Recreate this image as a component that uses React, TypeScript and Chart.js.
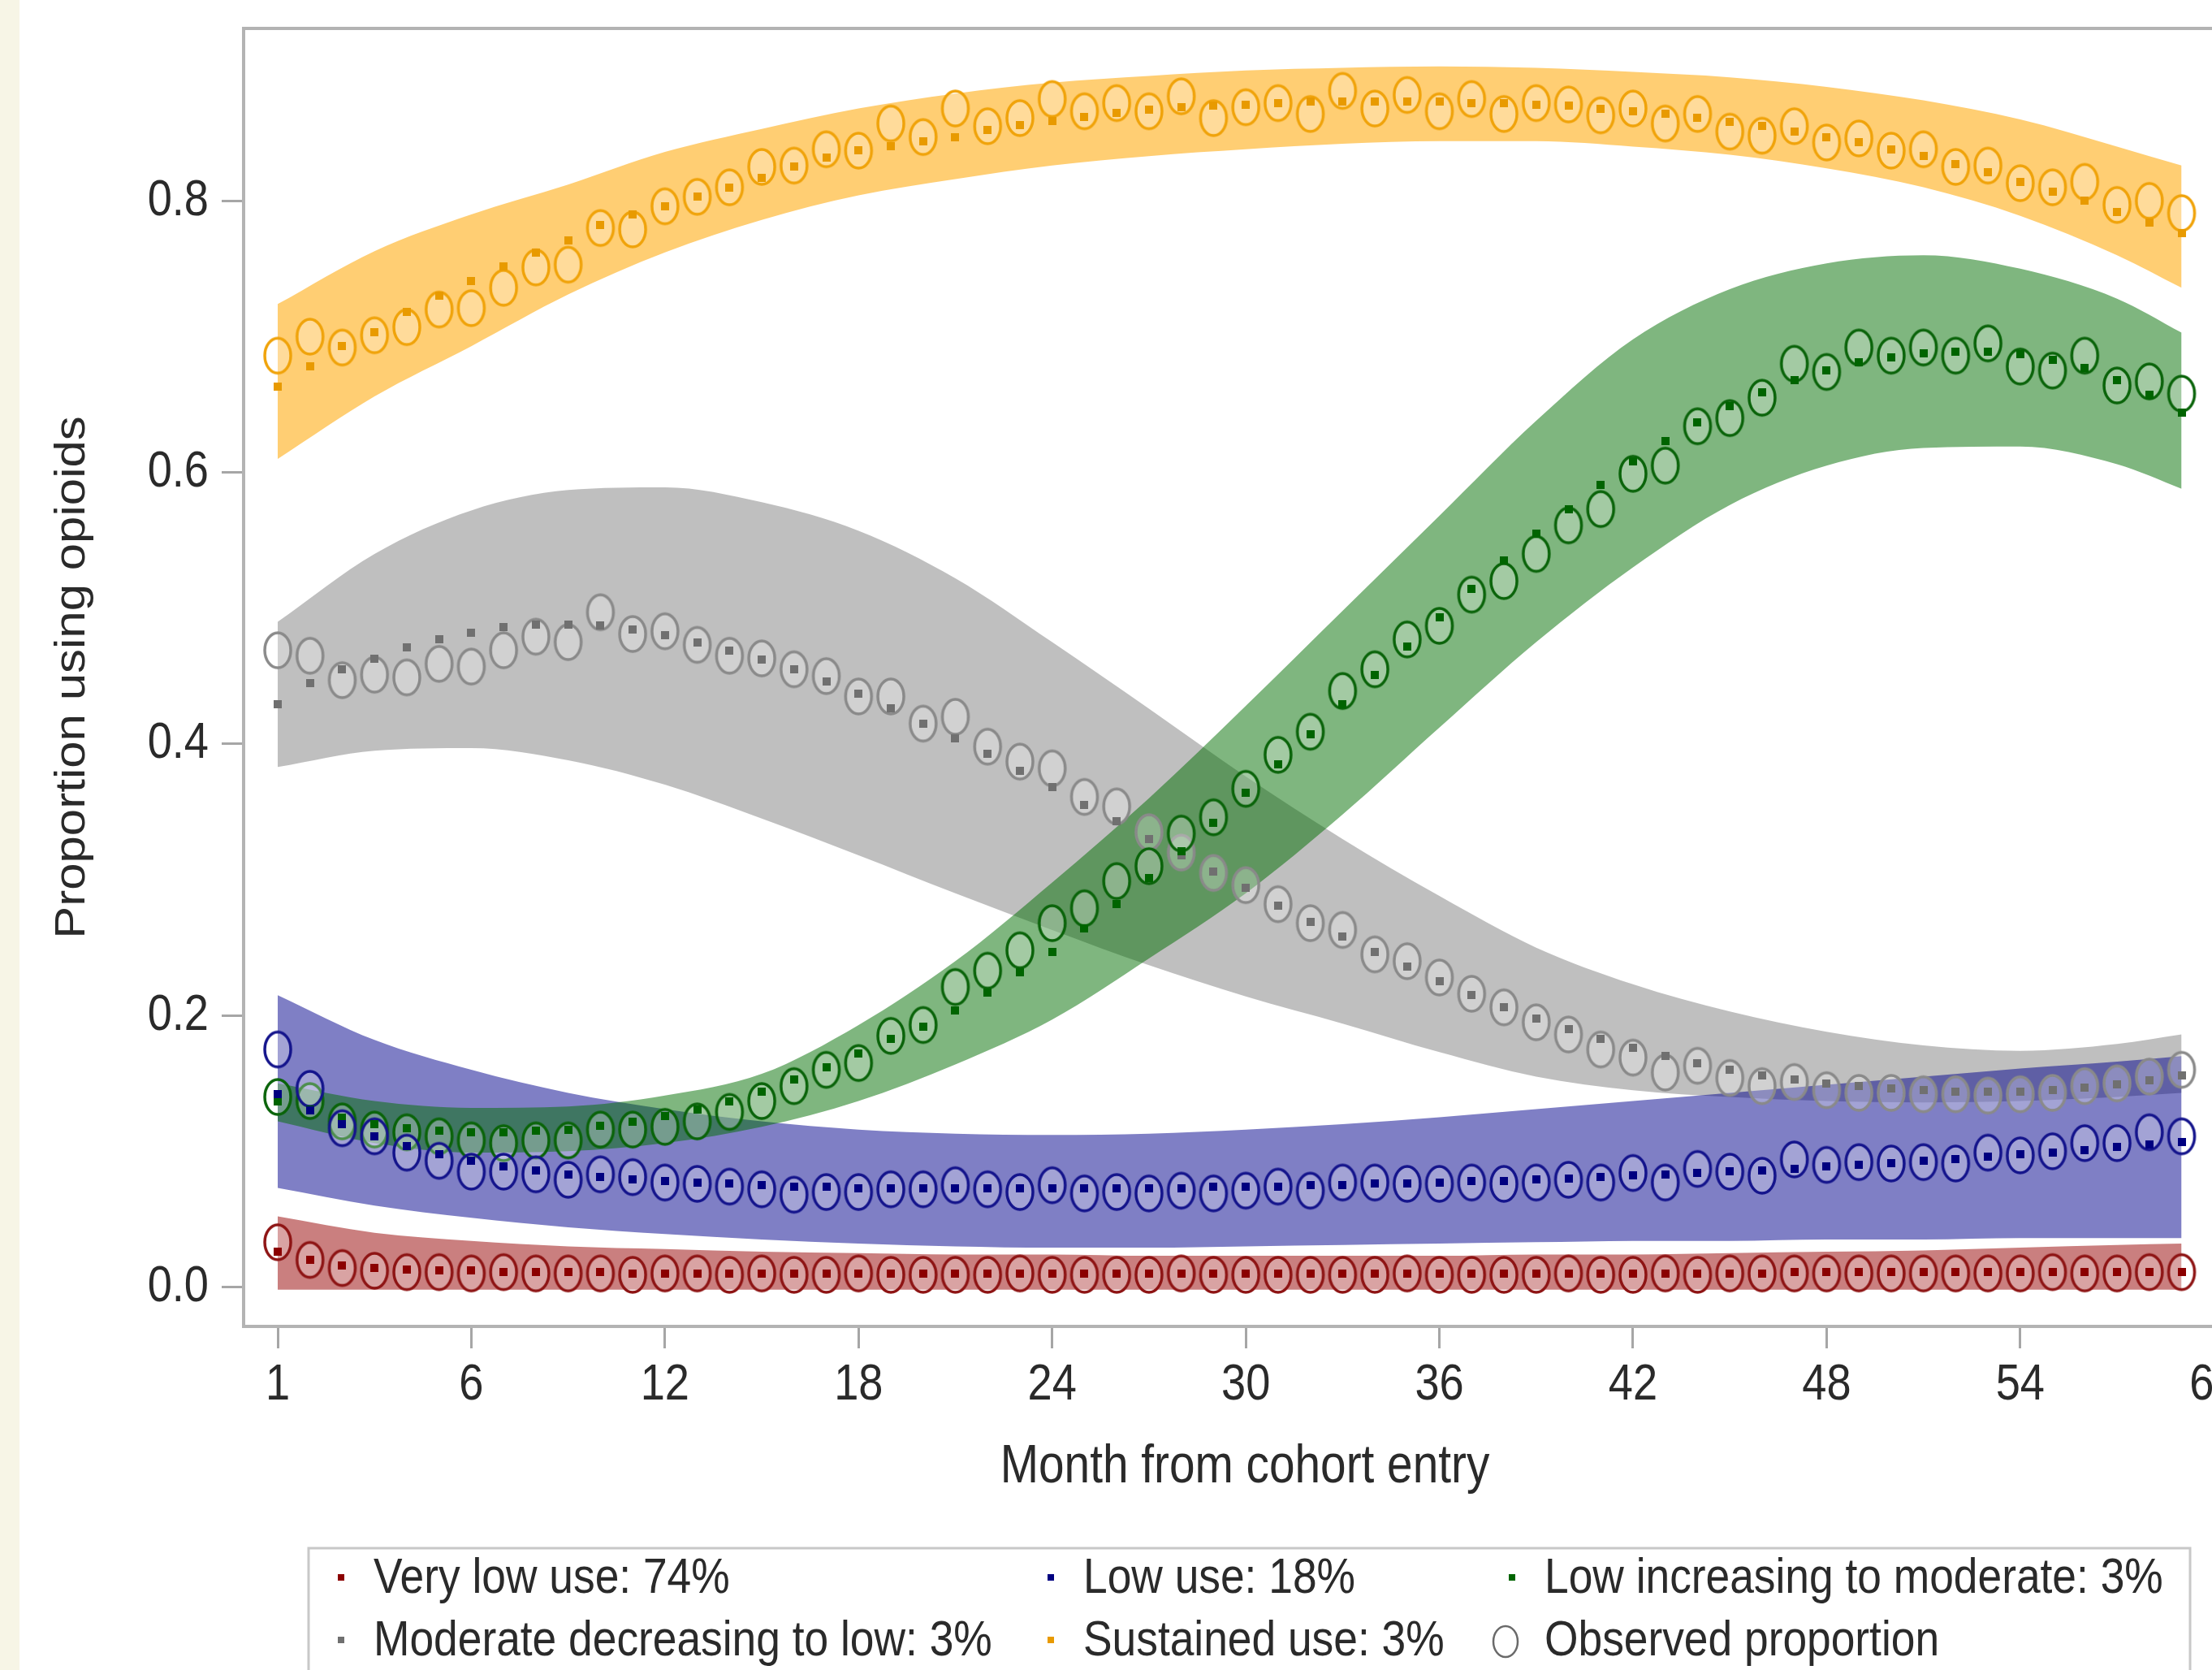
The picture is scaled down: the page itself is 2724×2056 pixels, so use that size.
import React, { useEffect, useRef } from 'react';
import { Chart, registerables } from 'chart.js';

Chart.register(...registerables);

// ---------- data ----------
const MONTH_INDEX = [
  0, 1, 2, 3, 4, 5, 6, 7, 8, 9, 10, 11, 12, 13, 14, 15, 16, 17, 18, 19,
  20, 21, 22, 23, 24, 25, 26, 27, 28, 29, 30, 31, 32, 33, 34, 35, 36, 37, 38, 39,
  40, 41, 42, 43, 44, 45, 46, 47, 48, 49, 50, 51, 52, 53, 54, 55, 56, 57, 58, 59,
];
const BAND_MONTHS = [0, 3, 6, 9, 12, 15, 18, 21, 24, 27, 30, 33, 36, 39, 42, 45, 48, 51, 54, 57, 59];

const X_TICK_VALUES = [0, 6, 12, 18, 24, 30, 36, 42, 48, 54, 60];
const X_TICK_LABELS = ['1', '6', '12', '18', '24', '30', '36', '42', '48', '54', '60'];
const Y_TICK_VALUES = [0, 0.2, 0.4, 0.6, 0.8];
const Y_TICK_LABELS = ['0.0', '0.2', '0.4', '0.6', '0.8'];

const X_TITLE = 'Month from cohort entry';
const Y_TITLE = 'Proportion using opioids';

const GROUP_LABELS = [
  'Very low use: 74%',
  'Low use: 18%',
  'Low increasing to moderate: 3%',
  'Moderate decreasing to low: 3%',
  'Sustained use: 3%',
];
const OBSERVED_LABEL = 'Observed proportion';

const RED_OBS = [
  0.033, 0.020, 0.014, 0.012, 0.011, 0.011, 0.010, 0.011, 0.010, 0.010,
  0.010, 0.009, 0.010, 0.010, 0.009, 0.010, 0.009, 0.009, 0.010, 0.009,
  0.009, 0.009, 0.009, 0.010, 0.009, 0.009, 0.009, 0.009, 0.010, 0.009,
  0.009, 0.009, 0.009, 0.009, 0.009, 0.010, 0.009, 0.009, 0.009, 0.009,
  0.010, 0.009, 0.009, 0.010, 0.009, 0.010, 0.010, 0.010, 0.010, 0.010,
  0.010, 0.010, 0.010, 0.010, 0.010, 0.011, 0.010, 0.010, 0.011, 0.011,
];
const RED_PRED = [
  0.026, 0.020, 0.016, 0.014, 0.013, 0.012, 0.012, 0.011, 0.011, 0.011,
  0.011, 0.010, 0.010, 0.010, 0.010, 0.010, 0.010, 0.010, 0.010, 0.010,
  0.010, 0.010, 0.010, 0.010, 0.010, 0.010, 0.010, 0.010, 0.010, 0.010,
  0.010, 0.010, 0.010, 0.010, 0.010, 0.010, 0.010, 0.010, 0.010, 0.010,
  0.010, 0.010, 0.010, 0.010, 0.010, 0.010, 0.010, 0.011, 0.011, 0.011,
  0.011, 0.011, 0.011, 0.011, 0.011, 0.011, 0.011, 0.011, 0.011, 0.011,
];
const RED_UPPER = [0.052, 0.040, 0.034, 0.030, 0.028, 0.026, 0.025, 0.024, 0.024, 0.023, 0.023, 0.023, 0.023, 0.024, 0.024, 0.025, 0.026, 0.027, 0.029, 0.031, 0.032];
const RED_LOWER = [-0.002, -0.002, -0.002, -0.002, -0.002, -0.002, -0.002, -0.002, -0.002, -0.002, -0.002, -0.002, -0.002, -0.002, -0.002, -0.002, -0.002, -0.002, -0.002, -0.002, -0.002];

const BLUE_OBS = [
  0.175, 0.146, 0.117, 0.111, 0.099, 0.093, 0.085, 0.085, 0.083, 0.079,
  0.083, 0.081, 0.077, 0.076, 0.074, 0.072, 0.068, 0.070, 0.070, 0.072,
  0.072, 0.075, 0.072, 0.070, 0.075, 0.069, 0.070, 0.069, 0.071, 0.069,
  0.071, 0.074, 0.071, 0.077, 0.077, 0.076, 0.076, 0.077, 0.076, 0.077,
  0.079, 0.077, 0.084, 0.077, 0.087, 0.085, 0.082, 0.094, 0.090, 0.092,
  0.091, 0.092, 0.091, 0.099, 0.097, 0.100, 0.106, 0.106, 0.114, 0.111,
];
const BLUE_PRED = [
  0.142, 0.130, 0.120, 0.111, 0.104, 0.098, 0.093, 0.089, 0.086, 0.083,
  0.081, 0.079, 0.078, 0.077, 0.076, 0.075, 0.074, 0.074, 0.073, 0.073,
  0.073, 0.073, 0.073, 0.073, 0.073, 0.073, 0.073, 0.073, 0.073, 0.074,
  0.074, 0.074, 0.075, 0.075, 0.076, 0.076, 0.077, 0.078, 0.078, 0.079,
  0.080, 0.081, 0.082, 0.083, 0.084, 0.085, 0.086, 0.087, 0.089, 0.090,
  0.091, 0.093, 0.094, 0.096, 0.098, 0.099, 0.101, 0.103, 0.105, 0.107,
];
const BLUE_UPPER = [0.215, 0.182, 0.160, 0.143, 0.131, 0.122, 0.116, 0.113, 0.112, 0.113, 0.116, 0.120, 0.125, 0.131, 0.137, 0.143, 0.149, 0.155, 0.161, 0.166, 0.170];
const BLUE_LOWER = [0.073, 0.060, 0.051, 0.044, 0.039, 0.035, 0.032, 0.030, 0.029, 0.029, 0.030, 0.031, 0.032, 0.033, 0.034, 0.034, 0.035, 0.035, 0.036, 0.036, 0.036];

const GREEN_OBS = [
  0.140, 0.137, 0.122, 0.116, 0.114, 0.111, 0.108, 0.106, 0.108, 0.108,
  0.116, 0.116, 0.118, 0.122, 0.129, 0.137, 0.148, 0.160, 0.165, 0.185,
  0.193, 0.221, 0.233, 0.248, 0.268, 0.279, 0.299, 0.310, 0.334, 0.346,
  0.367, 0.392, 0.409, 0.439, 0.455, 0.477, 0.487, 0.510, 0.520, 0.540,
  0.561, 0.573, 0.599, 0.605, 0.634, 0.640, 0.655, 0.680, 0.674, 0.692,
  0.686, 0.692, 0.686, 0.695, 0.678, 0.675, 0.686, 0.664, 0.667, 0.658,
];
const GREEN_PRED = [
  0.137, 0.131, 0.125, 0.120, 0.117, 0.115, 0.114, 0.114, 0.115, 0.116,
  0.119, 0.122, 0.126, 0.131, 0.137, 0.144, 0.153, 0.162, 0.172, 0.183,
  0.192, 0.204, 0.217, 0.232, 0.247, 0.264, 0.282, 0.301, 0.321, 0.342,
  0.364, 0.385, 0.407, 0.429, 0.451, 0.472, 0.493, 0.514, 0.535, 0.555,
  0.573, 0.591, 0.608, 0.623, 0.637, 0.649, 0.659, 0.668, 0.675, 0.681,
  0.685, 0.688, 0.689, 0.689, 0.687, 0.683, 0.677, 0.668, 0.657, 0.644,
];
const GREEN_UPPER = [0.150, 0.137, 0.132, 0.133, 0.141, 0.157, 0.193, 0.240, 0.298, 0.360, 0.428, 0.498, 0.568, 0.638, 0.698, 0.735, 0.754, 0.760, 0.750, 0.728, 0.703];
const GREEN_LOWER = [0.122, 0.106, 0.099, 0.100, 0.106, 0.118, 0.137, 0.164, 0.197, 0.242, 0.290, 0.348, 0.412, 0.475, 0.530, 0.576, 0.605, 0.618, 0.619, 0.606, 0.588];

const GRAY_OBS = [
  0.469, 0.465, 0.447, 0.451, 0.449, 0.459, 0.457, 0.469, 0.479, 0.475,
  0.497, 0.481, 0.483, 0.473, 0.465, 0.463, 0.455, 0.450, 0.435, 0.435,
  0.415, 0.420, 0.398, 0.387, 0.382, 0.361, 0.354, 0.335, 0.320, 0.305,
  0.296, 0.282, 0.268, 0.263, 0.245, 0.240, 0.228, 0.216, 0.206, 0.195,
  0.186, 0.175, 0.169, 0.158, 0.163, 0.154, 0.148, 0.151, 0.145, 0.143,
  0.143, 0.142, 0.142, 0.141, 0.142, 0.143, 0.148, 0.150, 0.155, 0.160,
];
const GRAY_PRED = [
  0.429, 0.445, 0.455, 0.463, 0.471, 0.477, 0.482, 0.486, 0.488, 0.488,
  0.487, 0.484, 0.480, 0.475, 0.469, 0.462, 0.455, 0.446, 0.437, 0.426,
  0.415, 0.404, 0.393, 0.380, 0.368, 0.355, 0.343, 0.330, 0.318, 0.306,
  0.294, 0.281, 0.269, 0.258, 0.247, 0.236, 0.225, 0.215, 0.206, 0.198,
  0.190, 0.183, 0.176, 0.170, 0.165, 0.160, 0.156, 0.153, 0.150, 0.148,
  0.146, 0.145, 0.144, 0.144, 0.144, 0.145, 0.147, 0.149, 0.152, 0.156,
];
const GRAY_UPPER = [0.490, 0.540, 0.572, 0.587, 0.589, 0.578, 0.557, 0.522, 0.475, 0.426, 0.376, 0.330, 0.288, 0.250, 0.223, 0.203, 0.188, 0.178, 0.174, 0.179, 0.186];
const GRAY_LOWER = [0.383, 0.395, 0.397, 0.388, 0.370, 0.345, 0.318, 0.290, 0.263, 0.237, 0.214, 0.194, 0.173, 0.155, 0.145, 0.140, 0.137, 0.136, 0.137, 0.140, 0.143];

const ORANGE_OBS = [
  0.686, 0.700, 0.692, 0.701, 0.707, 0.720, 0.721, 0.736, 0.751, 0.753,
  0.780, 0.779, 0.796, 0.803, 0.810, 0.825, 0.826, 0.838, 0.837, 0.857,
  0.847, 0.868, 0.855, 0.861, 0.875, 0.866, 0.872, 0.866, 0.877, 0.861,
  0.869, 0.872, 0.864, 0.881, 0.868, 0.878, 0.866, 0.875, 0.864, 0.872,
  0.871, 0.863, 0.868, 0.857, 0.864, 0.851, 0.848, 0.855, 0.843, 0.846,
  0.837, 0.838, 0.825, 0.826, 0.813, 0.810, 0.814, 0.797, 0.800, 0.791,
];
const ORANGE_PRED = [
  0.663, 0.678, 0.693, 0.703, 0.718, 0.730, 0.741, 0.752, 0.762, 0.771,
  0.782, 0.790, 0.796, 0.803, 0.810, 0.817, 0.825, 0.832, 0.837, 0.840,
  0.844, 0.847, 0.852, 0.856, 0.859, 0.862, 0.865, 0.867, 0.869, 0.870,
  0.871, 0.872, 0.873, 0.873, 0.873, 0.873, 0.873, 0.872, 0.872, 0.871,
  0.870, 0.868, 0.866, 0.864, 0.861, 0.858, 0.855, 0.851, 0.847, 0.843,
  0.838, 0.833, 0.827, 0.821, 0.814, 0.807, 0.800, 0.792, 0.784, 0.776,
];
const ORANGE_UPPER = [0.724, 0.763, 0.790, 0.812, 0.836, 0.853, 0.868, 0.879, 0.887, 0.892, 0.896, 0.898, 0.899, 0.898, 0.895, 0.891, 0.884, 0.874, 0.860, 0.840, 0.826];
const ORANGE_LOWER = [0.610, 0.656, 0.693, 0.731, 0.762, 0.786, 0.804, 0.816, 0.826, 0.833, 0.838, 0.842, 0.844, 0.844, 0.840, 0.834, 0.824, 0.810, 0.789, 0.760, 0.736];

// ---------- styles ----------
const FONT = '"Liberation Sans", Arial, sans-serif';
const TEXT_COLOR = '#2a2a2a';
const SQUEEZE = 0.86; // horizontal compression of the reference's lettering

const GROUP_STYLES = [
  { band: 'rgba(150,0,0,0.5)', ring: '#8e1414', dot: '#8b0000', bandOrder: 16 },
  { band: 'rgba(0,0,140,0.5)', ring: '#14148c', dot: '#000080', bandOrder: 19 },
  { band: 'rgba(0,110,0,0.5)', ring: '#0a640a', dot: '#006400', bandOrder: 18 },
  { band: 'rgba(128,128,128,0.5)', ring: '#8a8a8a', dot: '#707070', bandOrder: 20 },
  { band: 'rgba(255,165,0,0.55)', ring: '#f0a30a', dot: '#e89a00', bandOrder: 17 },
];

const GROUP_DATA = [
  { obs: RED_OBS, pred: RED_PRED, upper: RED_UPPER, lower: RED_LOWER },
  { obs: BLUE_OBS, pred: BLUE_PRED, upper: BLUE_UPPER, lower: BLUE_LOWER },
  { obs: GREEN_OBS, pred: GREEN_PRED, upper: GREEN_UPPER, lower: GREEN_LOWER },
  { obs: GRAY_OBS, pred: GRAY_PRED, upper: GRAY_UPPER, lower: GRAY_LOWER },
  { obs: ORANGE_OBS, pred: ORANGE_PRED, upper: ORANGE_UPPER, lower: ORANGE_LOWER },
];

const toXY = (xs: number[], ys: number[]) => ys.map((y, i) => ({ x: xs[i], y }));

function makeRing(color: string, rx = 16, ry = 21.5, lw = 3.5) {
  const w = Math.ceil(rx * 2 + lw + 2);
  const h = Math.ceil(ry * 2 + lw + 2);
  const c = document.createElement('canvas');
  c.width = w;
  c.height = h;
  const g = c.getContext('2d')!;
  g.beginPath();
  g.ellipse(w / 2, h / 2, rx, ry, 0, 0, Math.PI * 2);
  g.fillStyle = 'rgba(255,255,255,0.28)';
  g.fill();
  g.lineWidth = lw;
  g.strokeStyle = color;
  g.stroke();
  return c;
}

function makeDot(color: string, w = 10, h = 10) {
  const c = document.createElement('canvas');
  c.width = w;
  c.height = h;
  const g = c.getContext('2d')!;
  g.fillStyle = color;
  g.fillRect(0, 0, w, h);
  return c;
}

function squeezedText(
  ctx: CanvasRenderingContext2D,
  text: string,
  x: number,
  y: number,
  size: number,
  align: CanvasTextAlign,
) {
  ctx.save();
  ctx.translate(x, y);
  ctx.scale(SQUEEZE, 1);
  ctx.font = `${size}px ${FONT}`;
  ctx.textAlign = align;
  ctx.textBaseline = 'middle';
  ctx.fillStyle = TEXT_COLOR;
  ctx.fillText(text, 0, 0);
  ctx.restore();
}

const framePlugin = {
  id: 'frame',
  afterDatasetsDraw(chart: any) {
    const { ctx, chartArea } = chart;
    ctx.save();
    ctx.strokeStyle = '#b3b3b3';
    ctx.lineWidth = 4;
    ctx.strokeRect(chartArea.left, chartArea.top, chartArea.right - chartArea.left, chartArea.bottom - chartArea.top);
    ctx.restore();
  },
};

const axisTextPlugin = {
  id: 'axisText',
  afterDraw(chart: any) {
    const ctx: CanvasRenderingContext2D = chart.ctx;
    const xs = chart.scales.x;
    const ys = chart.scales.y;
    const area = chart.chartArea;
    X_TICK_VALUES.forEach((v, i) => {
      squeezedText(ctx, X_TICK_LABELS[i], xs.getPixelForValue(v), area.bottom + 73, 63, 'center');
    });
    Y_TICK_VALUES.forEach((v, i) => {
      squeezedText(ctx, Y_TICK_LABELS[i], area.left - 43, ys.getPixelForValue(v), 63, 'right');
    });
    squeezedText(ctx, X_TITLE, (area.left + area.right) / 2, area.bottom + 174, 66, 'center');
    // rotated y title: the squeeze applies to glyph height (screen x)
    ctx.save();
    ctx.translate(90, (area.top + area.bottom) / 2);
    ctx.rotate(-Math.PI / 2);
    ctx.scale(1, SQUEEZE);
    ctx.font = `60px ${FONT}`;
    ctx.textAlign = 'center';
    ctx.textBaseline = 'middle';
    ctx.fillStyle = TEXT_COLOR;
    ctx.fillText(Y_TITLE, 0, 0);
    ctx.restore();
  },
};

const legendPlugin = {
  id: 'sasLegend',
  afterDraw(chart: any) {
    const ctx: CanvasRenderingContext2D = chart.ctx;
    const boxLeft = 380;
    const boxTop = 1906;
    const boxRight = 2697;
    const rowY = [1942, 2019];
    const dotX = [420, 1294, 1862];
    const textX = [460, 1334, 1902];
    ctx.save();
    ctx.strokeStyle = '#c8c8c8';
    ctx.lineWidth = 3;
    ctx.beginPath();
    ctx.moveTo(boxLeft, 2100);
    ctx.lineTo(boxLeft, boxTop);
    ctx.lineTo(boxRight, boxTop);
    ctx.lineTo(boxRight, 2100);
    ctx.stroke();

    const items: { label: string; kind: 'dot' | 'ring'; color: string }[] = [
      { label: GROUP_LABELS[0], kind: 'dot', color: GROUP_STYLES[0].dot },
      { label: GROUP_LABELS[1], kind: 'dot', color: GROUP_STYLES[1].dot },
      { label: GROUP_LABELS[2], kind: 'dot', color: GROUP_STYLES[2].dot },
      { label: GROUP_LABELS[3], kind: 'dot', color: GROUP_STYLES[3].dot },
      { label: GROUP_LABELS[4], kind: 'dot', color: GROUP_STYLES[4].dot },
      { label: OBSERVED_LABEL, kind: 'ring', color: '#6a6a6a' },
    ];
    items.forEach((it, idx) => {
      const r = Math.floor(idx / 3);
      const c = idx % 3;
      const y = rowY[r];
      if (it.kind === 'dot') {
        ctx.fillStyle = it.color;
        ctx.fillRect(dotX[c] - 4, y - 4, 8, 8);
      } else {
        ctx.beginPath();
        ctx.ellipse(dotX[c] - 8, y + 2, 15, 19, 0, 0, Math.PI * 2);
        ctx.strokeStyle = it.color;
        ctx.lineWidth = 2.5;
        ctx.stroke();
      }
      squeezedText(ctx, it.label, textX[c], y + 2, 62, 'left');
    });
    ctx.restore();
  },
};

export default function App() {
  const canvasRef = useRef<HTMLCanvasElement | null>(null);

  useEffect(() => {
    if (!canvasRef.current) return;
    const datasets: any[] = [];
    GROUP_DATA.forEach((g, k) => {
      const st = GROUP_STYLES[k];
      datasets.push({
        type: 'line',
        label: GROUP_LABELS[k] + ' upper',
        data: toXY(BAND_MONTHS, g.upper),
        borderWidth: 0,
        borderColor: 'rgba(0,0,0,0)',
        pointRadius: 0,
        showLine: true,
        cubicInterpolationMode: 'monotone',
        backgroundColor: st.band,
        fill: '+1',
        order: st.bandOrder,
      });
      datasets.push({
        type: 'line',
        label: GROUP_LABELS[k] + ' lower',
        data: toXY(BAND_MONTHS, g.lower),
        borderWidth: 0,
        borderColor: 'rgba(0,0,0,0)',
        pointRadius: 0,
        showLine: true,
        cubicInterpolationMode: 'monotone',
        fill: false,
        order: st.bandOrder,
      });
    });
    GROUP_DATA.forEach((g, k) => {
      const st = GROUP_STYLES[k];
      datasets.push({
        type: 'scatter',
        label: GROUP_LABELS[k] + ' observed',
        data: toXY(MONTH_INDEX, g.obs),
        pointStyle: makeRing(st.ring),
        pointRadius: 4,
        showLine: false,
        order: 3,
      });
      datasets.push({
        type: 'scatter',
        label: GROUP_LABELS[k] + ' predicted',
        data: toXY(MONTH_INDEX, g.pred),
        pointStyle: makeDot(st.dot),
        pointRadius: 4,
        showLine: false,
        order: 1,
      });
    });

    const chart = new Chart(canvasRef.current, {
      type: 'scatter',
      data: { datasets },
      options: {
        animation: false,
        responsive: false,
        maintainAspectRatio: false,
        events: [],
        layout: { padding: { left: 0, top: 35, right: 34, bottom: 183 } },
        plugins: { legend: { display: false }, tooltip: { enabled: false } },
        scales: {
          x: {
            type: 'linear',
            min: -1.057,
            max: 61,
            bounds: 'data',
            afterBuildTicks: (s: any) => {
              s.ticks = X_TICK_VALUES.map((v) => ({ value: v }));
            },
            afterFit: (s: any) => {
              s.height = 240;
            },
            ticks: { display: false },
            grid: { display: true, drawOnChartArea: false, drawTicks: true, tickLength: 27, color: '#a6a6a6', lineWidth: 3 },
            border: { display: false },
            title: { display: false },
          },
          y: {
            type: 'linear',
            min: -0.029,
            max: 0.927,
            bounds: 'data',
            afterBuildTicks: (s: any) => {
              s.ticks = Y_TICK_VALUES.map((v) => ({ value: v }));
            },
            afterFit: (s: any) => {
              s.width = 300;
            },
            ticks: { display: false },
            grid: { display: true, drawOnChartArea: false, drawTicks: true, tickLength: 27, color: '#a6a6a6', lineWidth: 3 },
            border: { display: false },
            title: { display: false },
          },
        },
      },
      plugins: [framePlugin, axisTextPlugin, legendPlugin],
    } as any);

    return () => {
      chart.destroy();
    };
  }, []);

  return (
    <div
      style={{
        position: 'fixed',
        left: 0,
        top: 0,
        width: 2724,
        height: 2056,
        overflow: 'hidden',
        background: '#ffffff',
      }}
    >
      <canvas
        ref={canvasRef}
        width={2800}
        height={2056}
        style={{ position: 'absolute', left: 0, top: 0, width: 2800, height: 2056 }}
      />
      <div style={{ position: 'absolute', left: 0, top: 0, width: 24, height: 2056, background: '#f7f5e6' }} />
    </div>
  );
}
